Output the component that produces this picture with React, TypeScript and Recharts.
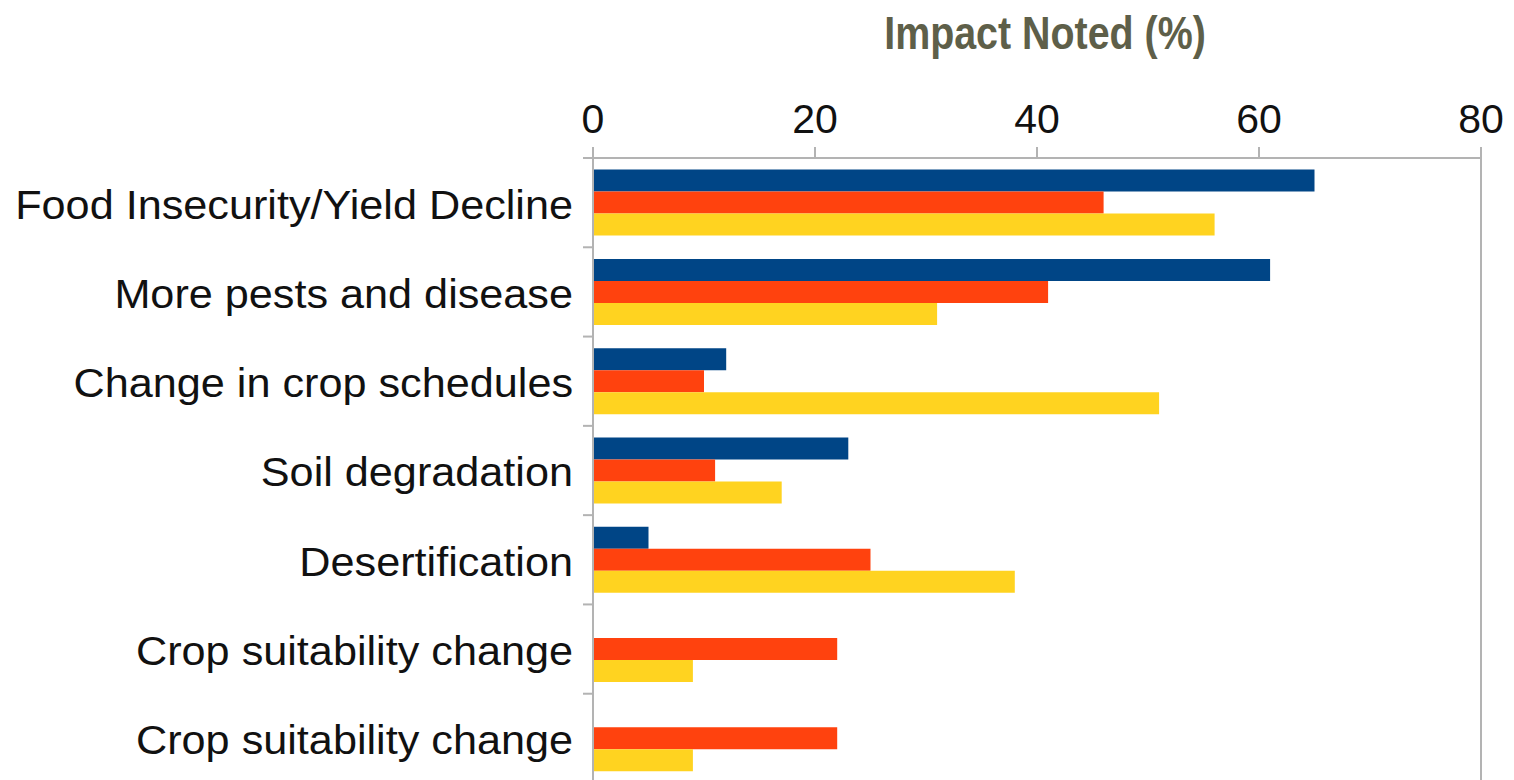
import React, { useLayoutEffect } from "react";
import { BarChart, Bar, XAxis, YAxis, ReferenceLine } from "recharts";

const categories = [
  "Food Insecurity/Yield Decline",
  "More pests and disease",
  "Change in crop schedules",
  "Soil degradation",
  "Desertification",
  "Crop suitability change",
  "Crop suitability change",
];
const seriesBlue = [65, 61, 12, 23, 5, 0, 0];
const seriesRed = [46, 41, 10, 11, 25, 22, 22];
const seriesYellow = [56, 31, 51, 17, 38, 9, 9];
const xTicks = [0, 20, 40, 60, 80];

const data = categories.map((name, i) => ({
  name,
  blue: seriesBlue[i],
  red: seriesRed[i],
  yellow: seriesYellow[i],
}));

const CHART_W = 1514;
const CHART_H = 790;
const M_TOP = 98;
const X_AXIS_H = 60;
const M_BOTTOM = 7;
const PLOT_TOP = M_TOP + X_AXIS_H;
const PLOT_H = CHART_H - M_BOTTOM - PLOT_TOP;
const BAND = PLOT_H / categories.length;
const AXIS_X = 593;
const GRAY = "#b3b3b3";

const YTick = (props: any) => {
  const { y, payload } = props;
  const top = y - BAND / 2;
  const tx = AXIS_X - 20;
  return (
    <g>
      <line x1={AXIS_X - 10} x2={AXIS_X} y1={top} y2={top} stroke={GRAY} strokeWidth={2} />
      <text
        x={0}
        y={0}
        transform={`translate(${tx},${y + 2}) scale(1.08,1)`}
        textAnchor="end"
        dominantBaseline="central"
        fontFamily="Liberation Sans, Arial, sans-serif"
        fontSize={40}
        fill="#111"
      >
        {payload.value}
      </text>
    </g>
  );
};

export default function App() {
  useLayoutEffect(() => {
    document.body.style.margin = "0";
    document.body.style.overflow = "hidden";
  }, []);
  return (
    <div style={{ position: "relative", width: CHART_W, height: 780, overflow: "hidden", background: "#fff" }}>
      <div
        style={{
          position: "absolute",
          left: 0,
          width: 2090,
          top: 8,
          textAlign: "center",
          fontFamily: "'Liberation Sans', Arial, sans-serif",
          fontWeight: "bold",
          fontSize: 46,
          color: "#5e5f49",
          lineHeight: "50px",
          pointerEvents: "none",
          transform: "scaleX(0.856)",
          transformOrigin: "1045px 0",
        }}
      >
        Impact Noted (%)
      </div>
      <BarChart
        width={CHART_W}
        height={CHART_H}
        data={data}
        layout="vertical"
        margin={{ top: M_TOP, right: 33, bottom: M_BOTTOM, left: 0 }}
        barGap={0}
        barCategoryGap="13%"
      >
        <XAxis
          type="number"
          orientation="top"
          domain={[0, 80]}
          ticks={xTicks}
          height={X_AXIS_H}
          tickSize={11}
          tickMargin={14}
          stroke={GRAY}
          axisLine={{ stroke: GRAY, strokeWidth: 2 }}
          tickLine={{ stroke: GRAY, strokeWidth: 2 }}
          tick={{ fill: "#111", fontSize: 41, fontFamily: "Liberation Sans, Arial, sans-serif" }}
        />
        <YAxis
          type="category"
          dataKey="name"
          width={AXIS_X}
          tickLine={false}
          axisLine={{ stroke: GRAY, strokeWidth: 2 }}
          tick={<YTick />}
          interval={0}
        />
        <ReferenceLine x={80} stroke={GRAY} strokeWidth={2} />
        <Bar dataKey="blue" fill="#004586" isAnimationActive={false} />
        <Bar dataKey="red" fill="#ff420e" isAnimationActive={false} />
        <Bar dataKey="yellow" fill="#ffd320" isAnimationActive={false} />
      </BarChart>
    </div>
  );
}
